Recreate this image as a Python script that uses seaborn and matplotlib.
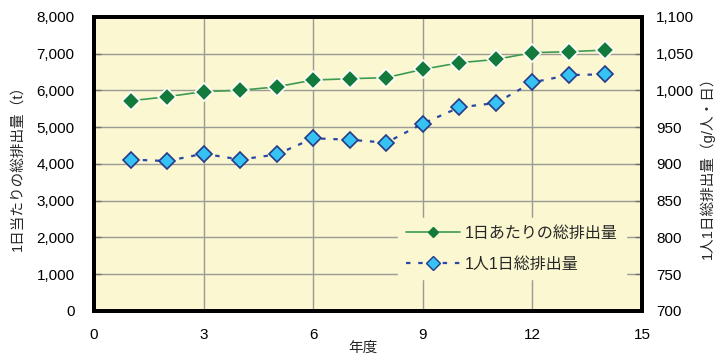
import numpy as np
import pandas as pd
import seaborn as sns
import matplotlib
matplotlib.use("Agg")
import matplotlib.pyplot as plt
from matplotlib.lines import Line2D

# Fiscal year index
years = [1, 2, 3, 4, 5, 6, 7, 8, 9, 10, 11, 12, 13, 14]
# Total daily discharge (t/day)
daily_total = [5720, 5830, 5970, 6005, 6100, 6285, 6320, 6350, 6575, 6755, 6845, 7030, 7055, 7100]
# Discharge per person per day (g/person/day)
per_capita = [906, 904, 914, 906, 913, 935, 933, 929, 955, 977, 983, 1011, 1021, 1022]

label_daily = "1日あたりの総排出量"
label_capita = "1人1日総排出量"

sns.set_theme(style="white")
plt.rcParams["font.family"] = ["Liberation Sans", "Noto Sans CJK JP", "DejaVu Sans"]

bg = "#FBF7D0"
green_line = "#3E9B52"
green_mark = "#127A3A"
blue_line = "#2A47A8"
blue_face = "#36C2F2"
blue_edge = "#263A8A"

df = pd.DataFrame({"year": years, "daily": daily_total, "capita": per_capita})

fig = plt.figure(figsize=(7.25, 3.54), dpi=100)
ax = fig.add_axes([0.1297, 0.1215, 0.7558, 0.8305])
ax.set_facecolor(bg)
ax2 = ax.twinx()

sns.lineplot(data=df, x="year", y="daily", ax=ax, color=green_line, lw=1.2,
             marker="D", markersize=9, markerfacecolor=green_mark,
             markeredgecolor="white", markeredgewidth=1.2, zorder=5)
sns.lineplot(data=df, x="year", y="capita", ax=ax2, color=blue_line, lw=1.6,
             linestyle=(0, (2, 3.5)), marker="D", markersize=8,
             markerfacecolor=blue_face, markeredgecolor=blue_edge,
             markeredgewidth=1.2, zorder=5)

ax.set_xlim(0, 15)
ax.set_ylim(0, 8000)
ax2.set_ylim(700, 1100)
ax.set_xticks([0, 3, 6, 9, 12, 15])
ax.set_yticks(np.arange(0, 8001, 1000))
ax2.set_yticks(np.arange(700, 1101, 50))
ax.yaxis.set_major_formatter(matplotlib.ticker.FuncFormatter(lambda v, p: f"{int(v):,}"))
ax2.yaxis.set_major_formatter(matplotlib.ticker.FuncFormatter(lambda v, p: f"{int(v):,}"))

ax.grid(True, color="#9A9A96", lw=1.0)
ax.set_axisbelow(True)

ax.tick_params(axis="both", direction="in", length=5, width=1, color="#707070",
               labelsize=11)
ax.tick_params(axis="x", pad=12)
ax.tick_params(axis="y", pad=14)
ax2.tick_params(axis="y", direction="in", length=5, width=1, color="#707070",
                labelsize=11, pad=10)
for tl in ax.get_xticklabels() + ax.get_yticklabels() + ax2.get_yticklabels():
    tl.set_color("black")

for a in (ax, ax2):
    for s in a.spines.values():
        s.set_linewidth(2.8)
        s.set_color("black")

ax.set_xlabel("年度", fontsize=10.5)
ax.set_ylabel("1日当たりの総排出量（t）", fontsize=10.5)
ax2.set_ylabel("1人1日総排出量（g/人・日）", fontsize=10.5, rotation=90)
ax.xaxis.set_label_coords(0.49, -0.1)
ax.yaxis.set_label_coords(-0.127, 0.5)
ax2.yaxis.set_label_coords(1.104, 0.5)

handles = [
    Line2D([], [], color=green_line, lw=1.2, marker="D", markersize=5,
           markerfacecolor=green_mark, markeredgecolor=green_mark),
    Line2D([], [], color=blue_line, lw=1.6, linestyle=(0, (2, 3.5)), marker="D",
           markersize=7, markerfacecolor=blue_face, markeredgecolor=blue_edge),
]
leg = ax2.legend(handles, [label_daily, label_capita], loc="lower right",
                 bbox_to_anchor=(0.985, 0.08), frameon=True, fontsize=11.5,
                 handlelength=3.4, handletextpad=0.3, labelspacing=1.0,
                 borderpad=0.5)
leg.get_frame().set_facecolor(bg)
leg.get_frame().set_edgecolor(bg)
leg.get_frame().set_alpha(1)

fig.savefig("out.png", dpi=100)
